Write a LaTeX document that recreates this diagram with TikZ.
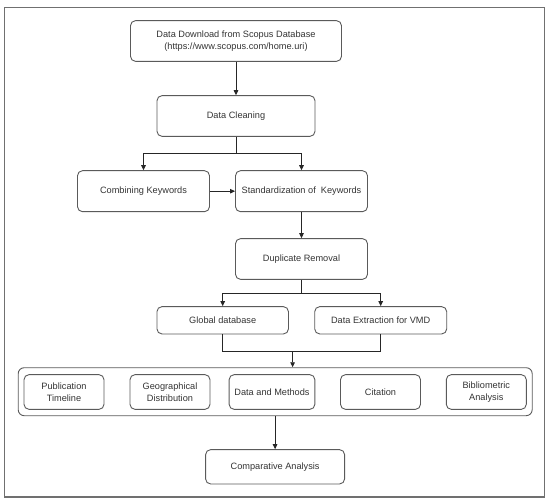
\documentclass[tikz,border=0pt]{standalone}
\usepackage{fontspec}
\setmainfont{Liberation Sans}
\usetikzlibrary{arrows.meta}
\definecolor{txt}{HTML}{333333}
\definecolor{boxc}{HTML}{5A5A5A}
\definecolor{framec}{HTML}{707070}
\definecolor{linec}{HTML}{262626}
\begin{document}
\begin{tikzpicture}[x=1pt,y=-1pt,
  procbox/.style={draw=boxc,line width=0.9pt,rounded corners=5pt,align=center,
    font=\fontsize{9.2}{12.5}\selectfont,text=txt,inner sep=0pt},
  conn/.style={draw=linec,line width=0.9pt},
  arr/.style={conn,-{Triangle[length=5pt,width=4.5pt]}}]
\useasboundingbox (0,0) rectangle (550,503);
\draw[framec,line width=1.5pt] (4.7,7.3) rectangle (544.3,497.2);

\node[procbox,minimum width=211pt,minimum height=40.7pt] (top) at (236,41)
  {Data Download from Scopus Database\\(https://www.scopus.com/home.uri)};
\node[procbox,minimum width=158pt,minimum height=40.7pt] (clean) at (236,116) {Data Cleaning};
\node[procbox,minimum width=132pt,minimum height=41pt] (comb) at (143.5,191.2) {Combining Keywords};
\node[procbox,minimum width=132pt,minimum height=41pt] (std) at (301.5,191.2) {Standardization of~ Keywords};
\node[procbox,minimum width=132pt,minimum height=40.7pt] (dup) at (301.5,259) {Duplicate Removal};
\node[procbox,minimum width=131.5pt,minimum height=27.3pt] (glob) at (222.7,320.3) {Global database};
\node[procbox,minimum width=132pt,minimum height=27.3pt] (vmd) at (380.7,320.3) {Data Extraction for VMD};

\node[procbox,minimum width=514pt,minimum height=48pt,rounded corners=6pt] (cont) at (275.2,391.7) {};
\node[procbox,minimum width=80pt,minimum height=34.7pt] (pub) at (64,392) {Publication\\Timeline};
\node[procbox,minimum width=80pt,minimum height=34.7pt] (geo) at (170,392) {Geographical\\Distribution};
\node[procbox,minimum width=85.7pt,minimum height=34.7pt] (dm) at (272,392) {Data and Methods};
\node[procbox,minimum width=80pt,minimum height=34.7pt] (cit) at (380.5,392) {Citation};
\node[procbox,minimum width=80pt,minimum height=34.7pt] (bib) at (486.3,392) {Bibliometric\\Analysis};

\node[procbox,minimum width=139pt,minimum height=34.3pt] (comp) at (275.1,466.8) {Comparative Analysis};

\coordinate (s1) at (236,153.3);
\coordinate (s2) at (301.5,293.3);
\coordinate (m1) at (292.6,351);

\draw[arr] (top.south) -- (clean.north);
\draw[conn] (clean.south) -- (s1);
\draw[arr] (s1) -| (comb.north);
\draw[arr] (s1) -| (std.north);
\draw[arr] (comb.east) -- (std.west);
\draw[arr] (std.south) -- (dup.north);
\draw[conn] (dup.south) -- (s2);
\draw[arr] (s2) -| (glob.north);
\draw[arr] (s2) -| (vmd.north);
\draw[conn] (glob.south) |- (m1);
\draw[conn] (vmd.south) |- (m1);
\draw[arr] (m1) -- (m1 |- cont.north);
\draw[arr] (comp.north |- cont.south) -- (comp.north);
\end{tikzpicture}
\end{document}
